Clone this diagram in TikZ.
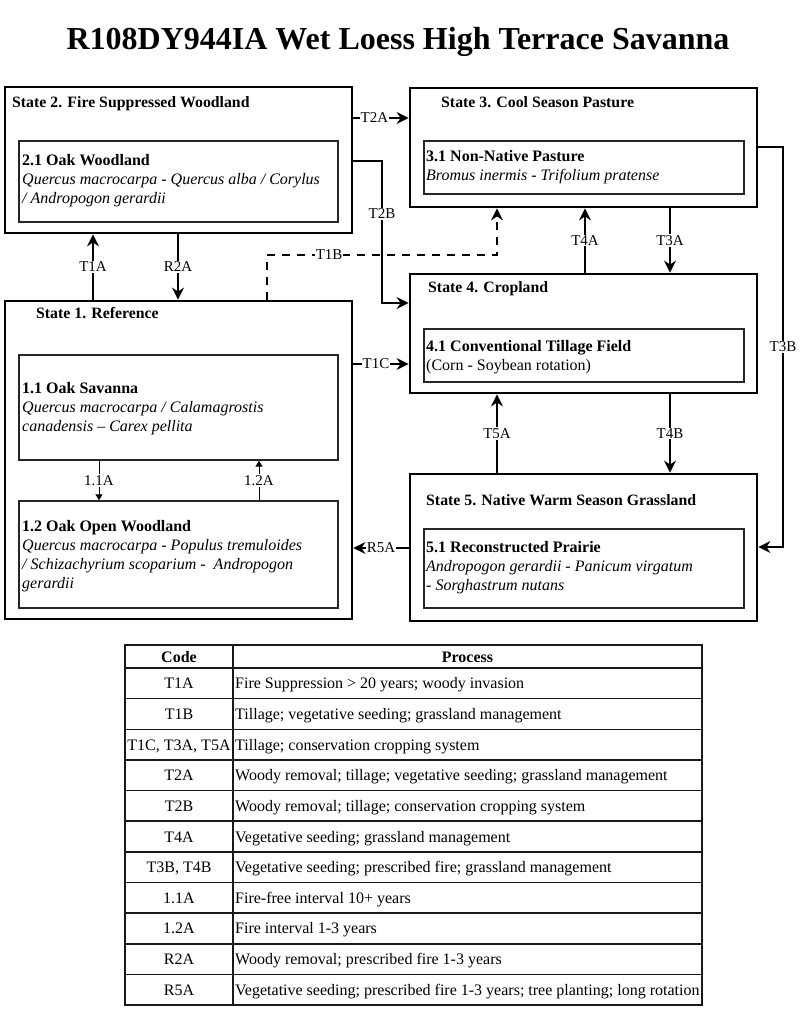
\documentclass[tikz,border=0pt]{standalone}
\usepackage{fontspec}
\setmainfont{Liberation Serif}
\usetikzlibrary{arrows.meta}
\begin{document}
\begin{tikzpicture}[x=1pt,y=-1pt,
  statebox/.style={draw=black, line width=2.8pt, inner sep=0pt},
  innerbox/.style={draw=black!85, line width=1.4pt, inner sep=0pt},
  ttl/.style={anchor=base west, inner sep=0pt, font=\fontsize{15.8}{19}\selectfont\bfseries},
  txt/.style={anchor=base west, inner sep=0pt, font=\fontsize{16}{19}\selectfont},
  conn/.style={line width=2.5pt, -{Stealth[length=12pt,width=12pt,inset=4pt]}},
  thinconn/.style={line width=1pt, -{Triangle[length=6pt,width=7pt]}},
  lab/.style={fill=white, inner sep=1pt, font=\fontsize{15}{16}\selectfont},
  cell/.style={inner sep=0pt, font=\fontsize{16}{18}\selectfont},
  tline/.style={line width=1.5pt, draw=black!90}]
\useasboundingbox (0,0) rectangle (800,1016);

% title
\node[anchor=base, inner sep=0pt, font=\fontsize{32}{36}\selectfont\bfseries] (title) at (398,50) {R108DY944IA Wet Loess High Terrace Savanna};

% state boxes
\node[statebox, minimum width=347pt, minimum height=146pt] (s2) at (178.5,160) {};
\node[statebox, minimum width=347pt, minimum height=318pt] (s1) at (178.5,460) {};
\node[statebox, minimum width=347pt, minimum height=119pt] (s3) at (583.5,147.5) {};
\node[statebox, minimum width=347pt, minimum height=119pt] (s4) at (583.5,333.5) {};
\node[statebox, minimum width=347pt, minimum height=147pt] (s5) at (583.5,547.5) {};

% inner boxes
\node[innerbox, minimum width=319pt, minimum height=81pt] (i21) at (178.5,181.5) {};
\node[innerbox, minimum width=319pt, minimum height=105pt] (i11) at (178.5,407.5) {};
\node[innerbox, minimum width=319pt, minimum height=107pt] (i12) at (178.5,554.5) {};
\node[innerbox, minimum width=320pt, minimum height=53pt] (i31) at (584,167.5) {};
\node[innerbox, minimum width=320pt, minimum height=53pt] (i41) at (584,355.5) {};
\node[innerbox, minimum width=320pt, minimum height=79pt] (i51) at (584,568.5) {};

% state titles
\node[ttl] (t2) at (12,108) {State 2. Fire Suppressed Woodland};
\node[ttl] (t1) at (36,318) {State 1. Reference};
\node[ttl] (t3) at (441,108) {State 3. Cool Season Pasture};
\node[ttl] (t4) at (428,292) {State 4. Cropland};
\node[ttl] (t5) at (426,505) {State 5. Native Warm Season Grassland};

% community texts
\node[txt] (x21) at (22,166) {\vtop{\hbox{\bfseries 2.1 Oak Woodland}\hbox{\itshape Quercus macrocarpa - Quercus alba / Corylus}\hbox{\itshape / Andropogon gerardii}}};
\node[txt] (x11) at (22,393) {\vtop{\hbox{\bfseries 1.1 Oak Savanna}\hbox{\itshape Quercus macrocarpa / Calamagrostis}\hbox{\itshape canadensis – Carex pellita}}};
\node[txt] (x12) at (22,531) {\vtop{\hbox{\bfseries 1.2 Oak Open Woodland}\hbox{\itshape Quercus macrocarpa - Populus tremuloides}\hbox{\itshape / Schizachyrium scoparium -\ \ Andropogon}\hbox{\itshape gerardii}}};
\node[txt] (x31) at (426,162) {\vtop{\hbox{\bfseries 3.1 Non-Native Pasture}\hbox{\itshape Bromus inermis - Trifolium pratense}}};
\node[txt] (x41) at (426,351) {\vtop{\hbox{\bfseries 4.1 Conventional Tillage Field}\hbox{(Corn - Soybean rotation)}}};
\node[txt] (x51) at (426,552) {\vtop{\hbox{\bfseries 5.1 Reconstructed Prairie}\hbox{\itshape Andropogon gerardii - Panicum virgatum}\hbox{\itshape - Sorghastrum nutans}}};

% helper coordinates
\coordinate (xT1A) at (93,0);
\coordinate (xR2A) at (178,0);
\coordinate (b1) at (267,255);
\coordinate (b2) at (497,255);
\coordinate (yT2A) at (0,118);
\coordinate (c2b) at (382,161);
\coordinate (c2b2) at (382,303);
\coordinate (yT1C) at (0,364);
\coordinate (yR5A) at (0,548);
\coordinate (c3b) at (783,147);
\coordinate (c3b2) at (783,547);
\coordinate (xT4A) at (585,0);
\coordinate (xT3A) at (670,0);
\coordinate (xT5A) at (497,0);
\coordinate (x11A) at (99,0);
\coordinate (x12A) at (259,0);

% connectors
\draw[conn] (xT1A |- s1.north) -- node[lab] (lT1A) {T1A} (xT1A |- s2.south);
\draw[conn] (xR2A |- s2.south) -- node[lab] (lR2A) {R2A} (xR2A |- s1.north);
\draw[conn, dash pattern=on 8pt off 7pt] (b1 |- s1.north) -- (b1) -- node[lab, pos=0.27] (lT1B) {T1B} (b2) -- (b2 |- s3.south);
\draw[conn] (s2.east |- yT2A) -- node[lab, pos=0.38] (lT2A) {T2A} (s3.west |- yT2A);
\draw[conn] (s2.east |- c2b) -- (c2b) -- node[lab, pos=0.37] (lT2B) {T2B} (c2b2) -- (s4.west |- c2b2);
\draw[conn] (s1.east |- yT1C) -- node[lab, pos=0.41] (lT1C) {T1C} (s4.west |- yT1C);
\draw[conn] (s5.west |- yR5A) -- node[lab, pos=0.5] (lR5A) {R5A} (s1.east |- yR5A);
\draw[conn] (s3.east |- c3b) -- (c3b) -- node[lab, pos=0.5] (lT3B) {T3B} (c3b2) -- (s5.east |- c3b2);
\draw[conn] (xT4A |- s4.north) -- node[lab] (lT4A) {T4A} (xT4A |- s3.south);
\draw[conn] (xT3A |- s3.south) -- node[lab] (lT3A) {T3A} (xT3A |- s4.north);
\draw[conn] (xT5A |- s5.north) -- node[lab] (lT5A) {T5A} (xT5A |- s4.south);
\draw[conn] (xT3A |- s4.south) -- node[lab] (lT4B) {T4B} (xT3A |- s5.north);
\draw[thinconn] (x11A |- i11.south) -- node[lab] (l11A) {1.1A} (x11A |- i12.north);
\draw[thinconn] (x12A |- i12.north) -- node[lab] (l12A) {1.2A} (x12A |- i11.south);

% table
\draw[tline] (125,645) rectangle (702,1005);
\draw[tline] (233,645) -- (233,1005);
\draw[tline] (125,668) -- (702,668);
\foreach \k in {1,...,10} {
  \draw[tline] (125,{668+\k*30.64}) -- (702,{668+\k*30.64});
}
\node[cell, anchor=base, font=\fontsize{16}{18}\selectfont\bfseries] (hcode) at (179,662) {Code};
\node[cell, anchor=base, font=\fontsize{16}{18}\selectfont\bfseries] (hproc) at (467.5,662) {Process};
\foreach \c/\p [count=\i] in {
  T1A/{Fire Suppression > 20 years; woody invasion},
  T1B/{Tillage; vegetative seeding; grassland management},
  {T1C, T3A, T5A}/{Tillage; conservation cropping system},
  T2A/{Woody removal; tillage; vegetative seeding; grassland management},
  T2B/{Woody removal; tillage; conservation cropping system},
  T4A/{Vegetative seeding; grassland management},
  {T3B, T4B}/{Vegetative seeding; prescribed fire; grassland management},
  1.1A/{Fire-free interval 10+ years},
  1.2A/{Fire interval 1-3 years},
  R2A/{Woody removal; prescribed fire 1-3 years},
  R5A/{Vegetative seeding; prescribed fire 1-3 years; tree planting; long rotation}} {
  \node[cell, anchor=base] (code\i) at (179,{668+(\i-0.5)*30.64+5.5}) {\c};
  \node[cell, anchor=base west] (proc\i) at (235,{668+(\i-0.5)*30.64+5.5}) {\p};
}
\end{tikzpicture}
\end{document}
